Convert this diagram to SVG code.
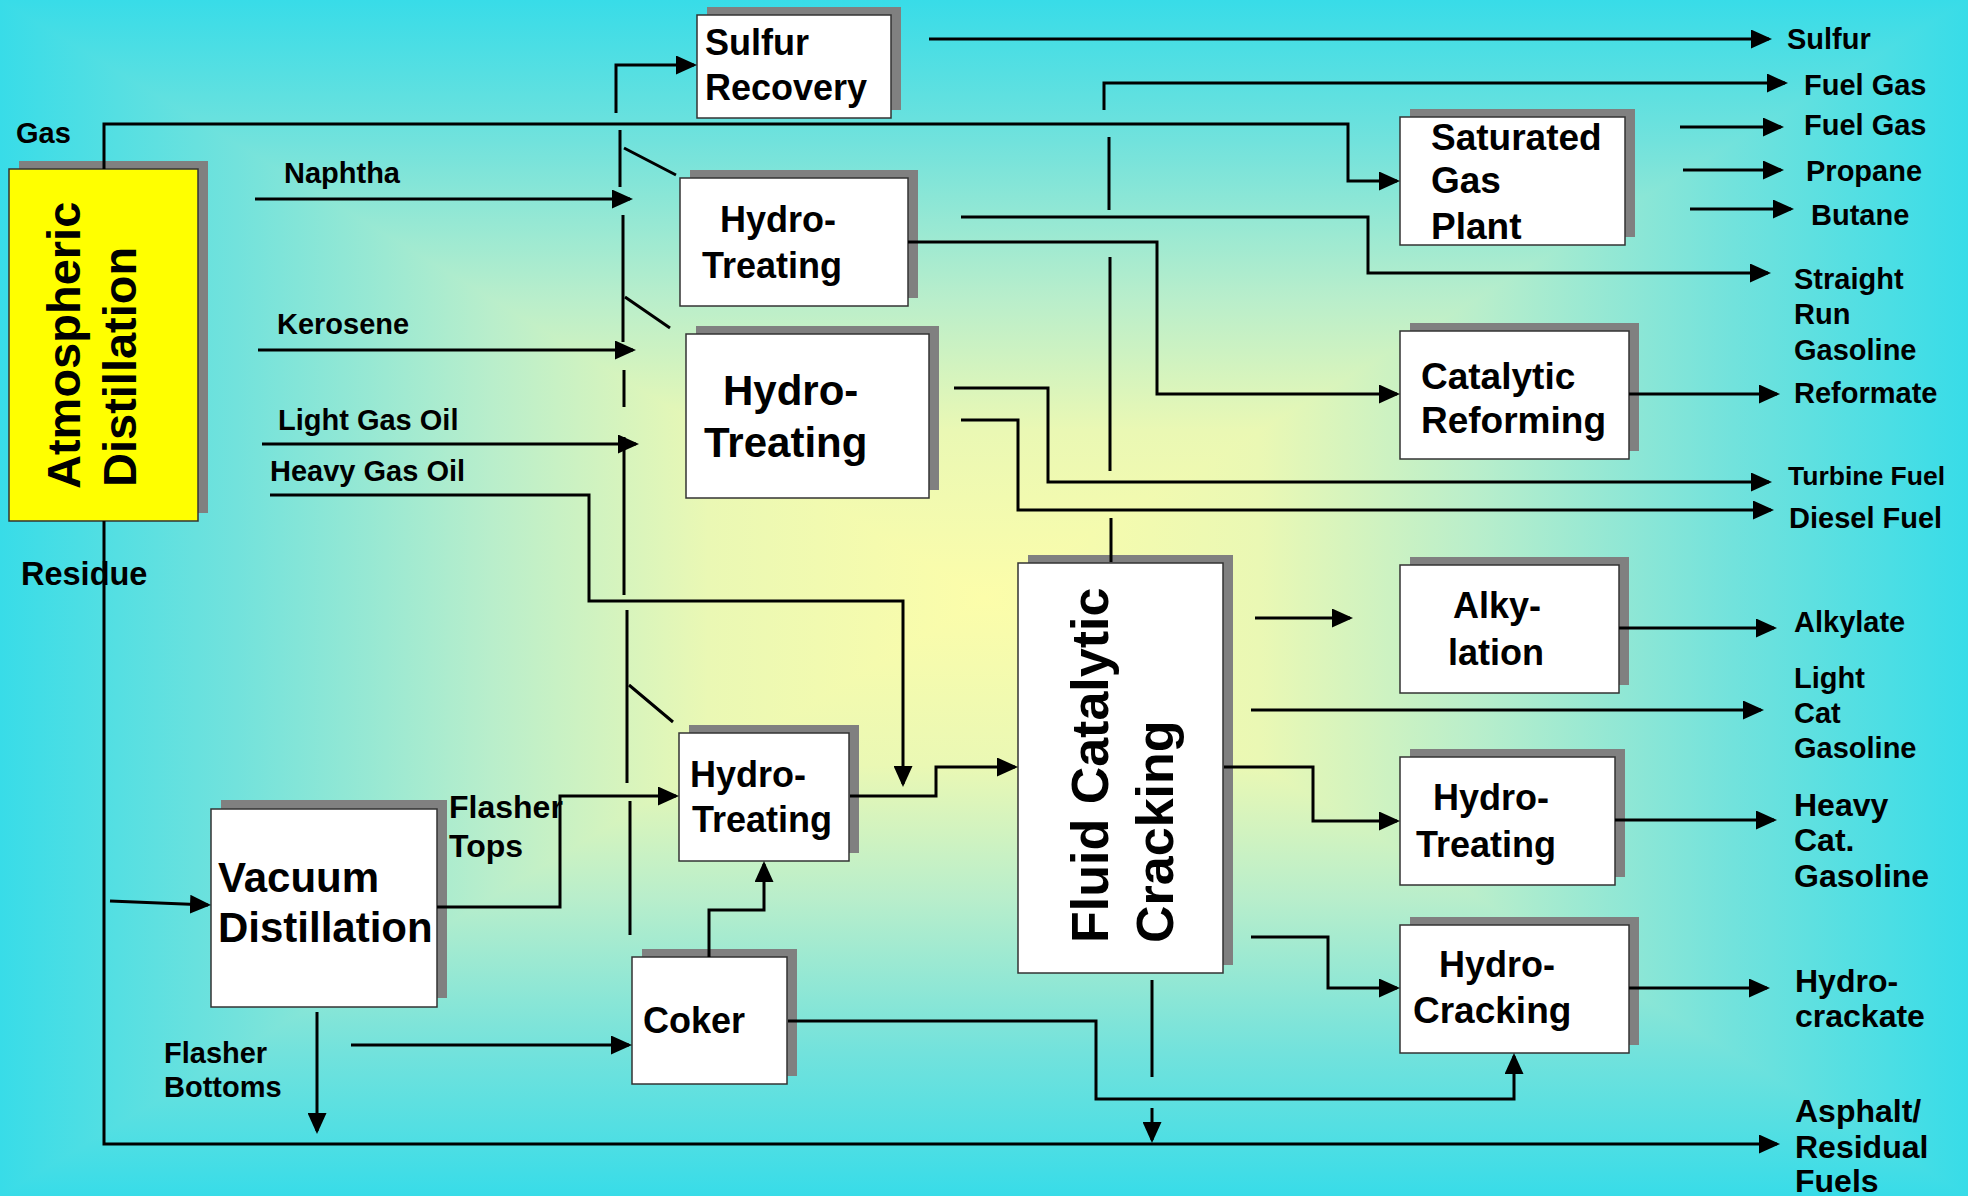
<svg xmlns="http://www.w3.org/2000/svg" width="1968" height="1196" viewBox="0 0 1968 1196">
<style>
text{font-family:"Liberation Sans",Arial,sans-serif;font-weight:bold;fill:#000}
.lbl{font-size:29px}
.big{font-size:32px}
.shadow{fill:#808080}
.box{fill:#fff;stroke:#333;stroke-width:1.5}
.ybox{fill:#ffff00;stroke:#333;stroke-width:1.5}
.c{fill:none;stroke:#000;stroke-width:3}
.a{marker-end:url(#ah)}
</style>
<defs>
<linearGradient id="gh" gradientUnits="userSpaceOnUse" x1="0" y1="0" x2="1968" y2="0">
<stop offset="0" stop-color="#38dce8"/>
<stop offset="0.12" stop-color="#72e2dc"/>
<stop offset="0.25" stop-color="#b9eecb"/>
<stop offset="0.36" stop-color="#eaf8b4"/>
<stop offset="0.5" stop-color="#fcfdaa"/>
<stop offset="0.64" stop-color="#eaf8b4"/>
<stop offset="0.75" stop-color="#b9eecb"/>
<stop offset="0.88" stop-color="#72e2dc"/>
<stop offset="1" stop-color="#38dce8"/>
</linearGradient>
<linearGradient id="gv" gradientUnits="userSpaceOnUse" x1="0" y1="0" x2="0" y2="1196">
<stop offset="0" stop-color="#38dce8"/>
<stop offset="0.12" stop-color="#72e2dc"/>
<stop offset="0.25" stop-color="#b9eecb"/>
<stop offset="0.36" stop-color="#eaf8b4"/>
<stop offset="0.5" stop-color="#fcfdaa"/>
<stop offset="0.64" stop-color="#eaf8b4"/>
<stop offset="0.75" stop-color="#b9eecb"/>
<stop offset="0.88" stop-color="#72e2dc"/>
<stop offset="1" stop-color="#38dce8"/>
</linearGradient>
<marker id="ah" markerUnits="userSpaceOnUse" viewBox="0 0 21 19" markerWidth="21" markerHeight="19" refX="18" refY="9.5" orient="auto">
<path d="M0,0 L21,9.5 L0,19 z" fill="#000"/>
</marker>
</defs>

<g id="background">
<rect x="0" y="0" width="1968" height="1196" fill="url(#gh)"/>
<polygon points="0,0 1968,0 984,598" fill="url(#gv)"/>
<polygon points="0,1196 1968,1196 984,598" fill="url(#gv)"/>
</g>

<g id="atmospheric-distillation">
<rect class="shadow" x="19" y="161" width="189" height="352"/>
<rect class="ybox" x="9" y="169" width="189" height="352"/>
<text font-size="47" transform="translate(80,489) rotate(-90)">Atmospheric</text>
<text font-size="47" transform="translate(136,487) rotate(-90)">Distillation</text>
</g>

<g id="sulfur-recovery">
<rect class="shadow" x="707" y="7" width="194" height="103"/>
<rect class="box" x="697" y="15" width="194" height="103"/>
<text font-size="36" x="705" y="55">Sulfur</text>
<text font-size="36" x="705" y="100">Recovery</text>
</g>

<g id="hydrotreating-1">
<rect class="shadow" x="690" y="170" width="228" height="128"/>
<rect class="box" x="680" y="178" width="228" height="128"/>
<text font-size="36" x="720" y="232">Hydro-</text>
<text font-size="36" x="702" y="278">Treating</text>
</g>

<g id="hydrotreating-2">
<rect class="shadow" x="696" y="326" width="243" height="164"/>
<rect class="box" x="686" y="334" width="243" height="164"/>
<text font-size="42" x="723" y="405">Hydro-</text>
<text font-size="42" x="704" y="457">Treating</text>
</g>

<g id="hydrotreating-3">
<rect class="shadow" x="689" y="725" width="170" height="128"/>
<rect class="box" x="679" y="733" width="170" height="128"/>
<text font-size="36" x="690" y="787">Hydro-</text>
<text font-size="36" x="692" y="832">Treating</text>
</g>

<g id="vacuum-distillation">
<rect class="shadow" x="221" y="800" width="226" height="198"/>
<rect class="box" x="211" y="809" width="226" height="198"/>
<text font-size="42" x="218" y="892">Vacuum</text>
<text font-size="42" x="218" y="942">Distillation</text>
</g>

<g id="coker">
<rect class="shadow" x="642" y="949" width="155" height="127"/>
<rect class="box" x="632" y="957" width="155" height="127"/>
<text font-size="36" x="643" y="1033">Coker</text>
</g>

<g id="fluid-catalytic-cracking">
<rect class="shadow" x="1028" y="555" width="205" height="410"/>
<rect class="box" x="1018" y="563" width="205" height="410"/>
<text font-size="52" transform="translate(1108,943) rotate(-90)">Fluid Catalytic</text>
<text font-size="52" transform="translate(1173,943) rotate(-90)">Cracking</text>
</g>

<g id="saturated-gas-plant">
<rect class="shadow" x="1410" y="109" width="225" height="128"/>
<rect class="box" x="1400" y="117" width="225" height="128"/>
<text font-size="37" x="1431" y="150">Saturated</text>
<text font-size="37" x="1431" y="193">Gas</text>
<text font-size="37" x="1431" y="239">Plant</text>
</g>

<g id="catalytic-reforming">
<rect class="shadow" x="1410" y="323" width="229" height="128"/>
<rect class="box" x="1400" y="331" width="229" height="128"/>
<text font-size="37" x="1421" y="389">Catalytic</text>
<text font-size="37" x="1421" y="433">Reforming</text>
</g>

<g id="alkylation">
<rect class="shadow" x="1410" y="557" width="219" height="128"/>
<rect class="box" x="1400" y="565" width="219" height="128"/>
<text font-size="36" x="1453" y="618">Alky-</text>
<text font-size="36" x="1448" y="665">lation</text>
</g>

<g id="hydrotreating-4">
<rect class="shadow" x="1410" y="749" width="215" height="128"/>
<rect class="box" x="1400" y="757" width="215" height="128"/>
<text font-size="36" x="1433" y="810">Hydro-</text>
<text font-size="36" x="1416" y="857">Treating</text>
</g>

<g id="hydrocracking">
<rect class="shadow" x="1410" y="917" width="229" height="128"/>
<rect class="box" x="1400" y="925" width="229" height="128"/>
<text font-size="36" x="1439" y="977">Hydro-</text>
<text font-size="37" x="1413" y="1023">Cracking</text>
</g>

<g id="connectors">
<path class="c a" d="M104,169 V124 H1348 V181 H1397"/>
<path class="c a" d="M255,199 H630"/>
<path class="c a" d="M258,350 H633"/>
<path class="c a" d="M262,444 H636"/>
<path class="c a" d="M270,495 H589 V601 H903 V784"/>
<path class="c a" d="M104,521 V1144 H1777"/>
<path class="c a" d="M616,113 V65 H694"/>
<path class="c a" d="M929,39 H1769"/>
<path class="c a" d="M1104,110 V83 H1785"/>
<path class="c a" d="M961,217 H1368 V273 H1768"/>
<path class="c a" d="M908,242 H1157 V394 H1397"/>
<path class="c a" d="M1680,127 H1781"/>
<path class="c a" d="M1683,170 H1781"/>
<path class="c a" d="M1690,209 H1791"/>
<path class="c a" d="M1629,394 H1777"/>
<path class="c a" d="M954,388 H1048 V482 H1769"/>
<path class="c a" d="M961,420 H1018 V510 H1771"/>
<path class="c a" d="M850,796 H936 V767 H1015"/>
<path class="c a" d="M437,907 H560 V796 H676"/>
<path class="c a" d="M110,901 L208,905"/>
<path class="c a" d="M317,1012 V1131"/>
<path class="c a" d="M351,1045 H629"/>
<path class="c a" d="M709,957 V910 H764 V864"/>
<path class="c a" d="M788,1021 H1096 V1099 H1514 V1056"/>
<path class="c a" d="M1152,1108 V1140"/>
<path class="c a" d="M1255,618 H1350"/>
<path class="c a" d="M1619,628 H1774"/>
<path class="c a" d="M1251,710 H1761"/>
<path class="c a" d="M1224,767 H1313 V821 H1397"/>
<path class="c a" d="M1615,820 H1774"/>
<path class="c a" d="M1251,937 H1328 V988 H1397"/>
<path class="c a" d="M1629,988 H1767"/>
<path class="c" d="M620,130 V187 M623,215 V342 M624,370 V407 M624,437 V595 M627,610 V783 M630,801 V935"/>
<path class="c" d="M624,148 L676,175 M625,297 L670,328 M629,685 L673,722"/>
<path class="c" d="M1109,137 V210 M1110,257 V471 M1111,518 V562 M1152,980 V1077"/>
</g>

<g id="labels">
<text class="lbl" x="16" y="143">Gas</text>
<text class="lbl" x="284" y="183">Naphtha</text>
<text class="lbl" x="277" y="334">Kerosene</text>
<text class="lbl" x="278" y="430">Light Gas Oil</text>
<text class="lbl" x="270" y="481">Heavy Gas Oil</text>
<text class="lbl" x="21" y="585" style="font-size:32.5px">Residue</text>
<text class="lbl" x="449" y="818" style="font-size:32px">Flasher</text>
<text class="lbl" x="449" y="857" style="font-size:32px">Tops</text>
<text class="lbl" x="164" y="1063">Flasher</text>
<text class="lbl" x="164" y="1097">Bottoms</text>
<text class="lbl" x="1787" y="49">Sulfur</text>
<text class="lbl" x="1804" y="95">Fuel Gas</text>
<text class="lbl" x="1804" y="135">Fuel Gas</text>
<text class="lbl" x="1806" y="181">Propane</text>
<text class="lbl" x="1811" y="225">Butane</text>
<text class="lbl" x="1794" y="289">Straight</text>
<text class="lbl" x="1794" y="324">Run</text>
<text class="lbl" x="1794" y="360">Gasoline</text>
<text class="lbl" x="1794" y="403">Reformate</text>
<text class="lbl" x="1788" y="485" style="font-size:26.5px">Turbine Fuel</text>
<text class="lbl" x="1789" y="528">Diesel Fuel</text>
<text class="lbl" x="1794" y="632">Alkylate</text>
<text class="lbl" x="1794" y="688">Light</text>
<text class="lbl" x="1794" y="723">Cat</text>
<text class="lbl" x="1794" y="758">Gasoline</text>
<text class="big" x="1794" y="816">Heavy</text>
<text class="big" x="1794" y="851">Cat.</text>
<text class="big" x="1794" y="887">Gasoline</text>
<text class="big" x="1795" y="992">Hydro-</text>
<text class="big" x="1795" y="1027">crackate</text>
<text class="big" x="1795" y="1122">Asphalt/</text>
<text class="big" x="1795" y="1158">Residual</text>
<text class="big" x="1795" y="1192">Fuels</text>
</g>
</svg>
